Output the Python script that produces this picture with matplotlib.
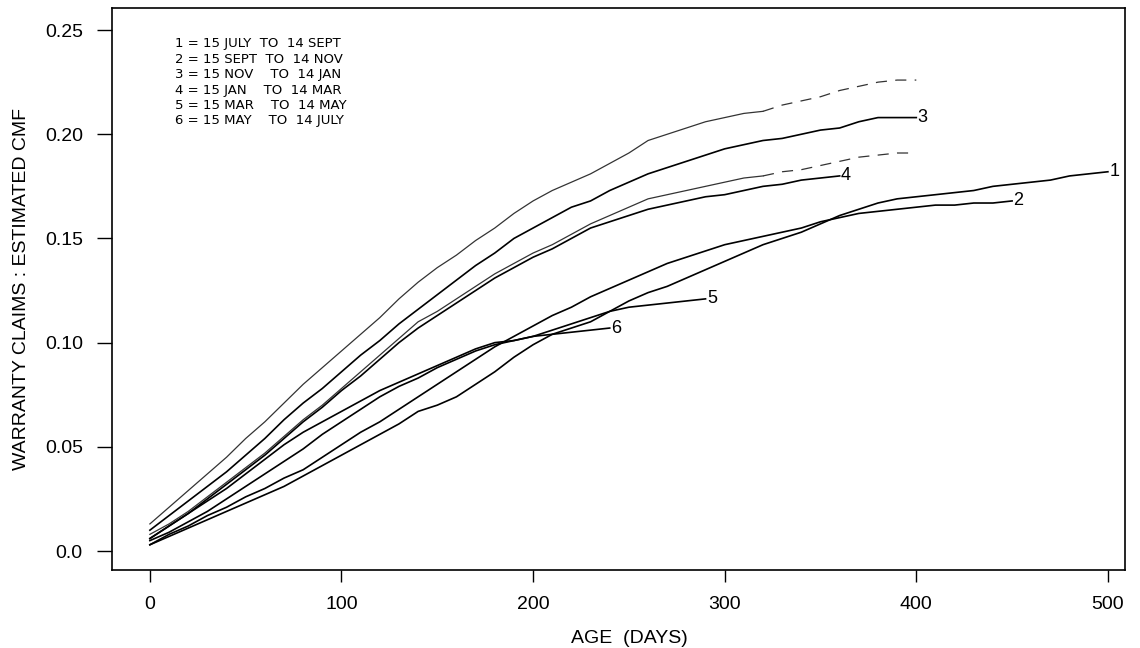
import matplotlib

matplotlib.use("Agg")
import matplotlib.pyplot as plt
import numpy as np

plt.rcParams["font.family"] = ["Liberation Sans", "DejaVu Sans"]
plt.rcParams["lines.scale_dashes"] = False

# estimated CMF read every 10 days (day 0, 10, 20, ...)
CMF_1 = [0.003, 0.007, 0.011, 0.015, 0.019, 0.023, 0.027, 0.031, 0.036, 0.041,
         0.046, 0.051, 0.056, 0.061, 0.067, 0.070, 0.074, 0.080, 0.086, 0.093,
         0.099, 0.104, 0.107, 0.110, 0.115, 0.120, 0.124, 0.127, 0.131, 0.135,
         0.139, 0.143, 0.147, 0.150, 0.153, 0.157, 0.161, 0.164, 0.167, 0.169,
         0.170, 0.171, 0.172, 0.173, 0.175, 0.176, 0.177, 0.178, 0.180, 0.181,
         0.182]
CMF_2 = [0.003, 0.008, 0.012, 0.017, 0.021, 0.026, 0.030, 0.035, 0.039, 0.045,
         0.051, 0.057, 0.062, 0.068, 0.074, 0.080, 0.086, 0.092, 0.098, 0.103,
         0.108, 0.113, 0.117, 0.122, 0.126, 0.130, 0.134, 0.138, 0.141, 0.144,
         0.147, 0.149, 0.151, 0.153, 0.155, 0.158, 0.160, 0.162, 0.163, 0.164,
         0.165, 0.166, 0.166, 0.167, 0.167, 0.168]
CMF_3 = [0.010, 0.017, 0.024, 0.031, 0.038, 0.046, 0.054, 0.063, 0.071, 0.078,
         0.086, 0.094, 0.101, 0.109, 0.116, 0.123, 0.130, 0.137, 0.143, 0.150,
         0.155, 0.160, 0.165, 0.168, 0.173, 0.177, 0.181, 0.184, 0.187, 0.190,
         0.193, 0.195, 0.197, 0.198, 0.200, 0.202, 0.203, 0.206, 0.208, 0.208,
         0.208]
CMF_4 = [0.006, 0.012, 0.018, 0.025, 0.032, 0.039, 0.046, 0.054, 0.062, 0.069,
         0.077, 0.084, 0.092, 0.100, 0.107, 0.113, 0.119, 0.125, 0.131, 0.136,
         0.141, 0.145, 0.150, 0.155, 0.158, 0.161, 0.164, 0.166, 0.168, 0.170,
         0.171, 0.173, 0.175, 0.176, 0.178, 0.179, 0.180]
CMF_5 = [0.005, 0.009, 0.014, 0.019, 0.025, 0.031, 0.037, 0.043, 0.049, 0.056,
         0.062, 0.068, 0.074, 0.079, 0.083, 0.088, 0.092, 0.096, 0.099, 0.101,
         0.103, 0.106, 0.109, 0.112, 0.115, 0.117, 0.118, 0.119, 0.120, 0.121]
CMF_6 = [0.006, 0.012, 0.018, 0.024, 0.030, 0.037, 0.044, 0.051, 0.057, 0.062,
         0.067, 0.072, 0.077, 0.081, 0.085, 0.089, 0.093, 0.097, 0.100, 0.101,
         0.103, 0.104, 0.105, 0.106, 0.107]
# the two unlabelled curves (thin, dashed tail)
CMF_UPPER = [0.013, 0.021, 0.029, 0.037, 0.045, 0.054, 0.062, 0.071, 0.080, 0.088,
             0.096, 0.104, 0.112, 0.121, 0.129, 0.136, 0.142, 0.149, 0.155, 0.162,
             0.168, 0.173, 0.177, 0.181, 0.186, 0.191, 0.197, 0.200, 0.203, 0.206,
             0.208, 0.210, 0.211, 0.214, 0.216, 0.218, 0.221, 0.223, 0.225, 0.226,
             0.226]
CMF_MID = [0.008, 0.013, 0.019, 0.026, 0.033, 0.040, 0.047, 0.055, 0.063, 0.070,
           0.078, 0.086, 0.094, 0.102, 0.110, 0.115, 0.121, 0.127, 0.133, 0.138,
           0.143, 0.147, 0.152, 0.157, 0.161, 0.165, 0.169, 0.171, 0.173, 0.175,
           0.177, 0.179, 0.180, 0.182, 0.183, 0.185, 0.187, 0.189, 0.190, 0.191,
           0.191]

LABELLED = [("1", CMF_1), ("2", CMF_2), ("3", CMF_3),
            ("4", CMF_4), ("5", CMF_5), ("6", CMF_6)]
DASH_FROM = 320  # day where the unlabelled curves turn dashed

KEY_LINES = [
    "1 = 15 JULY  TO  14 SEPT",
    "2 = 15 SEPT  TO  14 NOV",
    "3 = 15 NOV    TO  14 JAN",
    "4 = 15 JAN    TO  14 MAR",
    "5 = 15 MAR    TO  14 MAY",
    "6 = 15 MAY    TO  14 JULY",
]


def days_for(values):
    return np.arange(len(values)) * 10


fig = plt.figure(figsize=(11.4, 6.48), dpi=100)
ax = fig.add_axes([0.0982, 0.1204, 0.8886, 0.8673])

for name, values in LABELLED:
    days = days_for(values)
    ax.plot(days, values, color="black", linewidth=1.2, zorder=3)
    ax.annotate(name, (days[-1], values[-1]), xytext=(1, 0),
                textcoords="offset points", ha="left", va="center", fontsize=13)

for values in (CMF_UPPER, CMF_MID):
    days = days_for(values)
    vals = np.array(values)
    solid = days <= DASH_FROM
    dashed = days >= DASH_FROM
    ax.plot(days[solid], vals[solid], color="#333333", linewidth=0.9, zorder=2)
    ax.plot(days[dashed], vals[dashed], color="#333333", linewidth=0.9,
            linestyle=(0, (8, 6)), zorder=2)

for i, line in enumerate(KEY_LINES):
    ax.text(0.062, 0.936 - i * 0.0274, line, transform=ax.transAxes,
            fontsize=9.5, ha="left", va="center", family="DejaVu Sans")

ax.set_xlim(-19.8, 508.9)
ax.set_ylim(-0.0091, 0.2606)
ax.set_xticks([0, 100, 200, 300, 400, 500])
ax.set_yticks([0.0, 0.05, 0.10, 0.15, 0.20, 0.25])
ax.set_yticklabels(["0.0", "0.05", "0.10", "0.15", "0.20", "0.25"])
ax.tick_params(axis="x", direction="out", length=8.6, width=1, labelsize=14, pad=10)
ax.tick_params(axis="y", direction="out", length=11, width=1, labelsize=14, pad=10)
for spine in ax.spines.values():
    spine.set_linewidth(1.2)

ax.set_xlabel("AGE  (DAYS)", fontsize=14)
ax.set_ylabel("WARRANTY CLAIMS : ESTIMATED CMF", fontsize=14)
ax.xaxis.set_label_coords(0.511, -0.107)
ax.yaxis.set_label_coords(-0.081, 0.5)

fig.savefig("out.png", dpi=100)
